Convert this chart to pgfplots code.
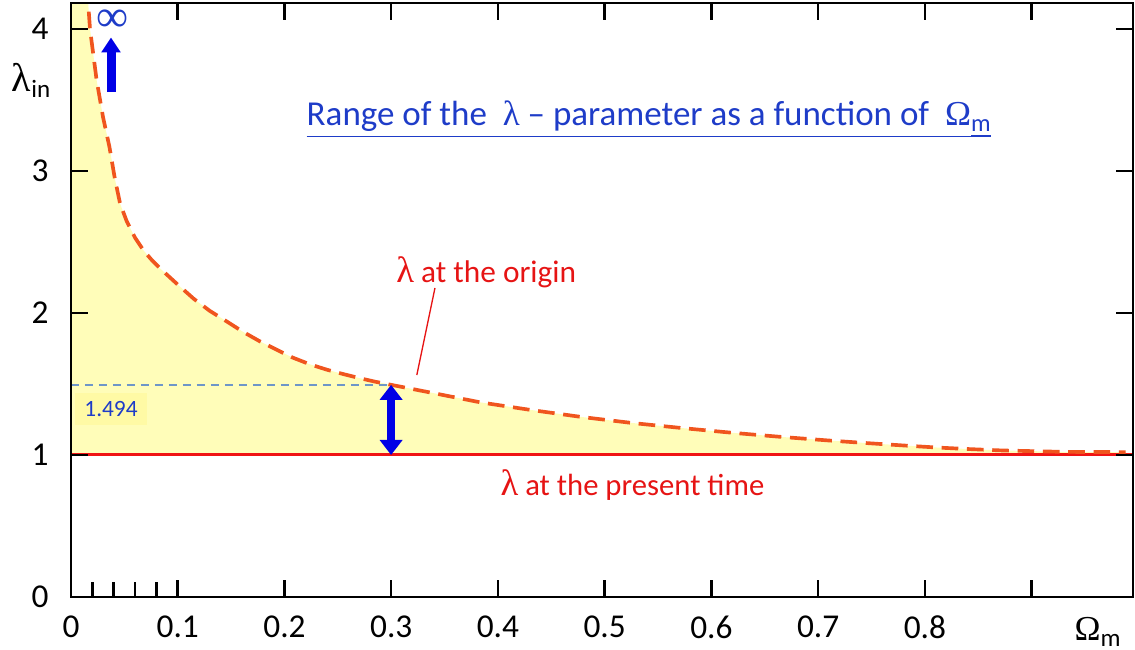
\documentclass[border=0pt]{standalone}
\usepackage{fontspec}
\setmainfont{Carlito}
\newfontfamily\symf{Liberation Serif}
\usepackage{pgfplots}
\pgfplotsset{compat=1.18}
\usetikzlibrary{arrows.meta}

\definecolor{fillyel}{RGB}{255,253,185}
\definecolor{boxyel}{RGB}{255,250,165}
\definecolor{curveor}{RGB}{240,85,30}
\definecolor{linered}{RGB}{240,20,20}
\definecolor{txtred}{RGB}{230,20,20}
\definecolor{arrblue}{RGB}{0,0,230}
\definecolor{txtblue}{RGB}{30,60,200}
\definecolor{refblue}{RGB}{110,150,200}

\newcommand{\lam}{{\symf\symbol{"03BB}}}
\newcommand{\Om}{{\symf\symbol{"03A9}}}

\begin{document}
\begin{tikzpicture}
\begin{axis}[
    name=ax,
    scale only axis,
    width=318.6pt, height=178.2pt,
    xmin=0, xmax=0.995,
    ymin=0, ymax=4.183,
    axis line style={line width=0.8pt},
    every tick/.style={black, line width=0.75pt},
    major tick length=5pt,
    tick align=inside,
    xtick={0,0.1,0.2,0.3,0.4,0.5,0.6,0.7,0.8,0.9},
    xticklabels={0,0.1,0.2,0.3,0.4,0.5,0.6,0.7,0.8,{}},
    ytick={0,1,2,3,4},
    /pgf/number format/assume math mode=true,
    ticklabel style={font=\fontsize{10}{11}\selectfont},
    xticklabel style={yshift=-2.2pt},
    yticklabel style={xshift=-3.2pt},
    clip=true,
    axis on top,
]
% shaded range between lambda at the origin and lambda = 1
\addplot[fill=fillyel, draw=none] coordinates {
    (0,1) (0,4.40) (0.0150,4.40) (0.0150,4.30) (0.0178,4.00) (0.024,3.64) (0.030,3.38)
    (0.036,3.17) (0.041,2.95) (0.046,2.77) (0.052,2.65) (0.060,2.53) (0.068,2.44)
    (0.076,2.37) (0.084,2.31) (0.100,2.20) (0.115,2.10) (0.130,2.015) (0.146,1.94)
    (0.161,1.868) (0.177,1.80) (0.193,1.74) (0.208,1.685) (0.224,1.638) (0.240,1.600)
    (0.256,1.568) (0.271,1.540) (0.285,1.516) (0.300,1.494) (0.340,1.435) (0.384,1.370)
    (0.430,1.318) (0.478,1.268) (0.525,1.226) (0.572,1.190) (0.620,1.156) (0.666,1.127)
    (0.710,1.102) (0.747,1.083) (0.780,1.067) (0.810,1.053) (0.840,1.042) (0.872,1.032)
    (0.930,1.022) (0.988,1.020) (0.988,1)
} -- cycle;
% lambda at the present time
\addplot[linered, line width=0.9pt] coordinates {(0,1) (0.995,1)};
% reference level 1.494
\addplot[refblue, line width=0.45pt, dash pattern=on 2.4pt off 1.8pt] coordinates {(0,1.494) (0.300,1.494)};
% lambda at the origin
\addplot[curveor, line width=1.1pt, dash pattern=on 5pt off 2.6pt] coordinates {
    (0.0150,4.30) (0.0178,4.00) (0.024,3.64) (0.030,3.38)
    (0.036,3.17) (0.041,2.95) (0.046,2.77) (0.052,2.65) (0.060,2.53) (0.068,2.44)
    (0.076,2.37) (0.084,2.31) (0.100,2.20) (0.115,2.10) (0.130,2.015) (0.146,1.94)
    (0.161,1.868) (0.177,1.80) (0.193,1.74) (0.208,1.685) (0.224,1.638) (0.240,1.600)
    (0.256,1.568) (0.271,1.540) (0.285,1.516) (0.300,1.494) (0.340,1.435) (0.384,1.370)
    (0.430,1.318) (0.478,1.268) (0.525,1.226) (0.572,1.190) (0.620,1.156) (0.666,1.127)
    (0.710,1.102) (0.747,1.083) (0.780,1.067) (0.810,1.053) (0.840,1.042) (0.872,1.032)
    (0.930,1.022) (0.988,1.020)
};
% arrows
\draw[arrblue, line width=2.4pt, {Triangle[width=6.6pt,length=4.5pt]}-{Triangle[width=6.6pt,length=4.5pt]}]
    (axis cs:0.2999,1.0) -- (axis cs:0.2999,1.494);
\draw[arrblue, line width=2.7pt, -{Triangle[width=5.6pt,length=4.5pt]}]
    (axis cs:0.0375,3.556) -- (axis cs:0.0375,3.94);
% leader line
\draw[txtred, line width=0.4pt] (axis cs:0.324,1.563) -- (axis cs:0.341,2.176);
% minor ticks on the bottom edge only
\pgfplotsinvokeforeach{0.02,0.04,0.06,0.08}{
    \draw[black, line width=0.75pt] (axis cs:#1,0) -- ++(0,4.5pt);
}
\end{axis}
% texts
\begin{axis}[
    scale only axis, width=318.6pt, height=178.2pt,
    xmin=0, xmax=0.995, ymin=0, ymax=4.183,
    hide axis, clip=false,
]
\node[txtblue, font=\fontsize{10.5}{12}\selectfont] at (axis cs:0.542,3.36)
    {\underline{Range of the \ \lam\ -- parameter as a function of \ \Om}\textsubscript{\underline{m}}};
\node[txtred, font=\fontsize{9.4}{11}\selectfont] at (axis cs:0.389,2.29)
    {{\fontsize{11}{12}\selectfont\lam} at the origin};
\node[txtred, font=\fontsize{9.2}{11}\selectfont] at (axis cs:0.526,0.79)
    {{\fontsize{11}{12}\selectfont\lam} at the present time};
\node[txtblue, font=\symf\fontsize{13.5}{14}\selectfont, inner sep=0pt] at (axis cs:0.039,4.06) {\symbol{"221E}};
\node[fill=boxyel, text=txtblue, font=\fontsize{7}{8}\selectfont,
      minimum width=21.6pt, minimum height=9.6pt, inner sep=0pt] at (axis cs:0.0375,1.324) {1.494};
\node[font=\fontsize{12}{14}\selectfont, inner sep=0pt] at (axis cs:-0.0366,3.64)
    {\lam\textsubscript{\fontsize{7.5}{8}\selectfont in}};
\node[font=\fontsize{10.5}{12}\selectfont, inner sep=0pt] at (axis cs:0.9625,-0.246)
    {\Om\textsubscript{\fontsize{7.5}{8}\selectfont m}};
\end{axis}
\pgfresetboundingbox
\path ([shift={(-21.3pt,-15.9pt)}]ax.south west) rectangle ([shift={(0.6pt,0.9pt)}]ax.north east);
\end{tikzpicture}
\end{document}
